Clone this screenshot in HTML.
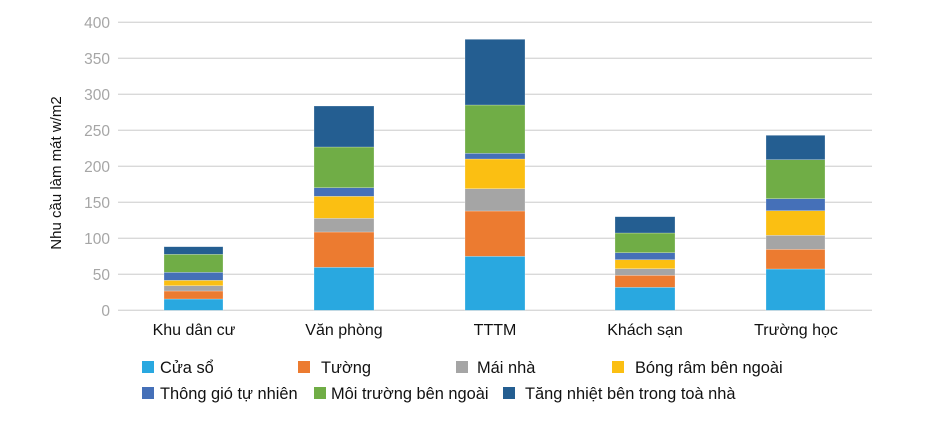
<!DOCTYPE html>
<html><head><meta charset="utf-8"><style>
html,body{margin:0;padding:0;background:#fff}
svg{display:block;font-family:"Liberation Sans",sans-serif}
</style></head><body>
<svg width="936" height="426" viewBox="0 0 936 426">
<g stroke="#d9d9d9" stroke-width="1.3">
<line x1="118" x2="872" y1="22.3" y2="22.3"/><line x1="118" x2="872" y1="58.3" y2="58.3"/>
<line x1="118" x2="872" y1="94.3" y2="94.3"/><line x1="118" x2="872" y1="130.3" y2="130.3"/>
<line x1="118" x2="872" y1="166.3" y2="166.3"/><line x1="118" x2="872" y1="202.3" y2="202.3"/>
<line x1="118" x2="872" y1="238.3" y2="238.3"/><line x1="118" x2="872" y1="274.3" y2="274.3"/>
<line x1="118" x2="872" y1="310.3" y2="310.3"/>
</g>
<g font-size="15.5" fill="#a6a6a6" text-anchor="end">
<text x="110" y="28">400</text><text x="110" y="64">350</text><text x="110" y="100">300</text>
<text x="110" y="136">250</text><text x="110" y="172">200</text><text x="110" y="208">150</text>
<text x="110" y="244">100</text><text x="110" y="280">50</text><text x="110" y="316">0</text>
</g>
<text transform="translate(61,173) rotate(-90)" text-anchor="middle" font-size="15" fill="#111">Nhu cầu làm mát w/m2</text>
<g stroke="#ffffff" stroke-opacity="0.4" stroke-width="0.6">
<rect x="164" width="59" y="299" height="11.3" fill="#29a8e0"/>
<rect x="164" width="59" y="291" height="8" fill="#ec7b30"/>
<rect x="164" width="59" y="285.7" height="5.3" fill="#a5a5a5"/>
<rect x="164" width="59" y="280.3" height="5.4" fill="#fbbf12"/>
<rect x="164" width="59" y="272.3" height="8" fill="#4570b8"/>
<rect x="164" width="59" y="254.3" height="18" fill="#70ad46"/>
<rect x="164" width="59" y="246.7" height="7.6" fill="#245e91"/>
<rect x="314" width="60" y="267.3" height="43" fill="#29a8e0"/>
<rect x="314" width="60" y="232" height="35.3" fill="#ec7b30"/>
<rect x="314" width="60" y="218.3" height="13.7" fill="#a5a5a5"/>
<rect x="314" width="60" y="196.3" height="22" fill="#fbbf12"/>
<rect x="314" width="60" y="187.7" height="8.6" fill="#4570b8"/>
<rect x="314" width="60" y="147" height="40.7" fill="#70ad46"/>
<rect x="314" width="60" y="106" height="41" fill="#245e91"/>
<rect x="465" width="60" y="256.3" height="54" fill="#29a8e0"/>
<rect x="465" width="60" y="211" height="45.3" fill="#ec7b30"/>
<rect x="465" width="60" y="188.7" height="22.3" fill="#a5a5a5"/>
<rect x="465" width="60" y="159" height="29.7" fill="#fbbf12"/>
<rect x="465" width="60" y="153.3" height="5.7" fill="#4570b8"/>
<rect x="465" width="60" y="105" height="48.3" fill="#70ad46"/>
<rect x="465" width="60" y="39.3" height="65.7" fill="#245e91"/>
<rect x="615" width="60" y="287.3" height="23" fill="#29a8e0"/>
<rect x="615" width="60" y="275.3" height="12" fill="#ec7b30"/>
<rect x="615" width="60" y="268.7" height="6.6" fill="#a5a5a5"/>
<rect x="615" width="60" y="259.7" height="9" fill="#fbbf12"/>
<rect x="615" width="60" y="252.7" height="7" fill="#4570b8"/>
<rect x="615" width="60" y="233" height="19.7" fill="#70ad46"/>
<rect x="615" width="60" y="216.7" height="16.3" fill="#245e91"/>
<rect x="766" width="59" y="269" height="41.3" fill="#29a8e0"/>
<rect x="766" width="59" y="249.3" height="19.7" fill="#ec7b30"/>
<rect x="766" width="59" y="235.3" height="14" fill="#a5a5a5"/>
<rect x="766" width="59" y="210.7" height="24.6" fill="#fbbf12"/>
<rect x="766" width="59" y="198.7" height="12" fill="#4570b8"/>
<rect x="766" width="59" y="159.7" height="39" fill="#70ad46"/>
<rect x="766" width="59" y="135.3" height="24.4" fill="#245e91"/>
</g>
<g font-size="16" fill="#111" text-anchor="middle">
<text x="194" y="335">Khu dân cư</text><text x="344" y="335">Văn phòng</text>
<text x="495" y="335">TTTM</text><text x="645" y="335">Khách sạn</text><text x="796" y="335">Trường học</text>
</g>
<g font-size="16.4" fill="#111">
<rect x="142" y="361" width="12" height="12" fill="#29a8e0"/><text x="160" y="373">Cửa sổ</text>
<rect x="298" y="361" width="12" height="12" fill="#ec7b30"/><text x="321" y="373">Tường</text>
<rect x="456" y="361" width="12" height="12" fill="#a5a5a5"/><text x="477" y="373">Mái nhà</text>
<rect x="612" y="361" width="12" height="12" fill="#fbbf12"/><text x="635" y="373">Bóng râm bên ngoài</text>
<rect x="142" y="387" width="12" height="12" fill="#4570b8"/><text x="160" y="399">Thông gió tự nhiên</text>
<rect x="314" y="387" width="12" height="12" fill="#70ad46"/><text x="331" y="399">Môi trường bên ngoài</text>
<rect x="503" y="387" width="12" height="12" fill="#245e91"/><text x="525" y="399">Tăng nhiệt bên trong toà nhà</text>
</g>
</svg>
</body></html>
